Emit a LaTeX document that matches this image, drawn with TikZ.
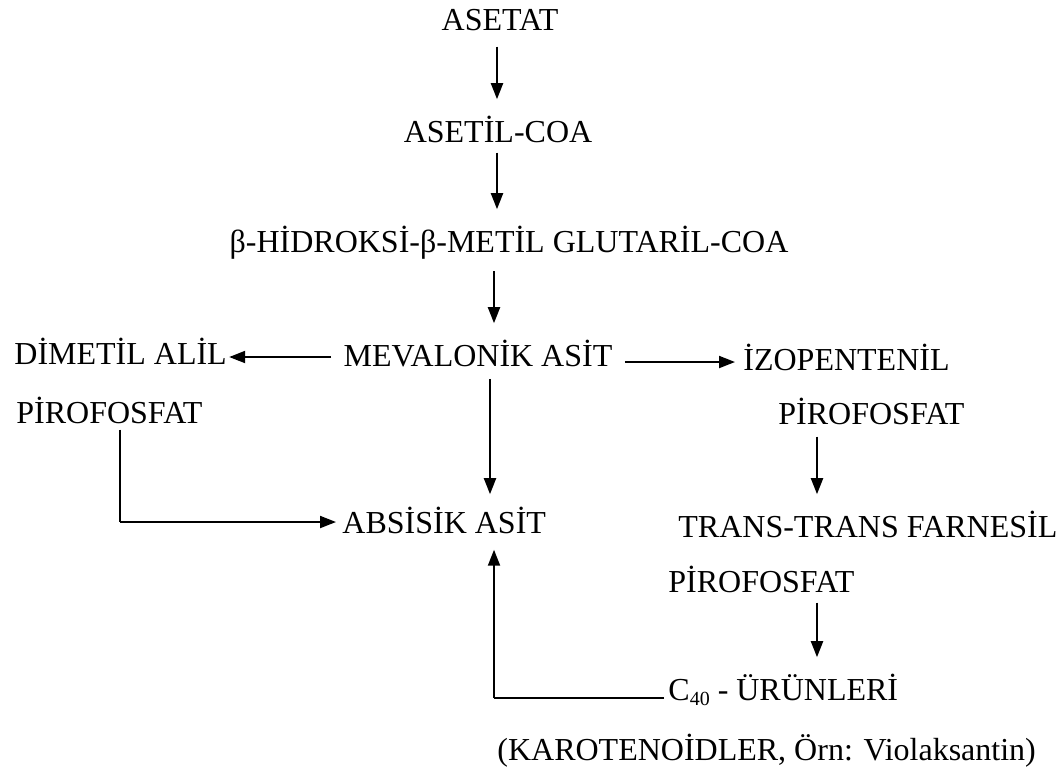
\documentclass[tikz,border=0pt]{standalone}
\usepackage{fontspec}
\setmainfont{Liberation Serif}
\usetikzlibrary{arrows.meta}
\begin{document}
\begin{tikzpicture}[x=0.5pt,y=-0.5pt,
  lbl/.style={inner sep=0pt,anchor=base,font=\fontsize{16}{18}\selectfont},
  lbll/.style={inner sep=0pt,anchor=base west,font=\fontsize{16}{18}\selectfont},
  arr/.style={line width=1pt,-{Triangle[length=8pt,width=6pt]}},
  ln/.style={line width=1pt}]
\useasboundingbox (0,0) rectangle (1063,773);
% nodes
\node[lbl] (asetat) at (500,30) {ASETAT};
\node[lbl] (asetil) at (498,142) {ASETİL-COA};
\node[lbl] (hmg) at (509,252) {β-HİDROKSİ-β-METİL GLUTARİL-COA};
\node[lbl] (mev) at (478,366) {MEVALONİK ASİT};
\node[lbll] (dim) at (14,364) {DİMETİL ALİL};
\node[lbll] (pir1) at (16,423) {PİROFOSFAT};
\node[lbll] (izo) at (743,370) {İZOPENTENİL};
\node[lbll] (pir2) at (778,424) {PİROFOSFAT};
\node[lbll] (abs) at (342,533) {ABSİSİK ASİT};
\node[lbll] (trans) at (678,537) {TRANS-TRANS FARNESİL};
\node[lbll] (pir3) at (668,592) {PİROFOSFAT};
\node[lbll] (c40) at (668,700) {C{\fontsize{10}{10}\selectfont\raisebox{-2.5pt}{40}} - ÜRÜNLERİ};
\node[lbll] (karo) at (497,760) {(KAROTENOİDLER, Örn: Violaksantin)};
% columns
\coordinate (k1) at (497,0);
\coordinate (k2) at (494,0);
\coordinate (k3) at (490,0);
\coordinate (k4) at (817,0);
\coordinate (k5) at (120,0);
\coordinate (r1) at (0,357);
\coordinate (r2) at (0,362);
\coordinate (r3) at (0,522);
\coordinate (r4) at (0,698);
% connectors
\draw[arr] ([yshift=-8pt]asetat.south -| k1) -- ([yshift=8pt]asetil.north -| k1);
\draw[arr] ([yshift=-5pt]asetil.south -| k1) -- ([yshift=8pt]hmg.north -| k1);
\draw[arr] ([yshift=-6pt]hmg.south -| k2) -- ([yshift=8pt]mev.north -| k2);
\draw[arr] ([xshift=-6pt]mev.west |- r1) -- ([xshift=1pt]dim.east |- r1);
\draw[arr] ([xshift=6pt]mev.east |- r2) -- ([xshift=-4pt]izo.west |- r2);
\draw[arr] ([yshift=-6pt]mev.south -| k3) -- ([yshift=6pt]abs.north -| k3);
\draw[arr] ([yshift=-6pt]pir2.south -| k4) -- ([yshift=8pt]trans.north -| k4);
\draw[arr] ([yshift=-5pt]pir3.south -| k4) -- ([yshift=8pt]c40.north -| k4);
\draw[ln] ([yshift=-3pt]pir1.south -| k5) -- (k5 |- r3);
\draw[arr] (k5 |- r3) -- ([xshift=-3pt]abs.west |- r3);
\draw[ln] ([xshift=-2pt]c40.west |- r4) -- (k2 |- r4);
\draw[arr] (k2 |- r4) -- ([yshift=-8pt]abs.south -| k2);
\end{tikzpicture}
\end{document}
